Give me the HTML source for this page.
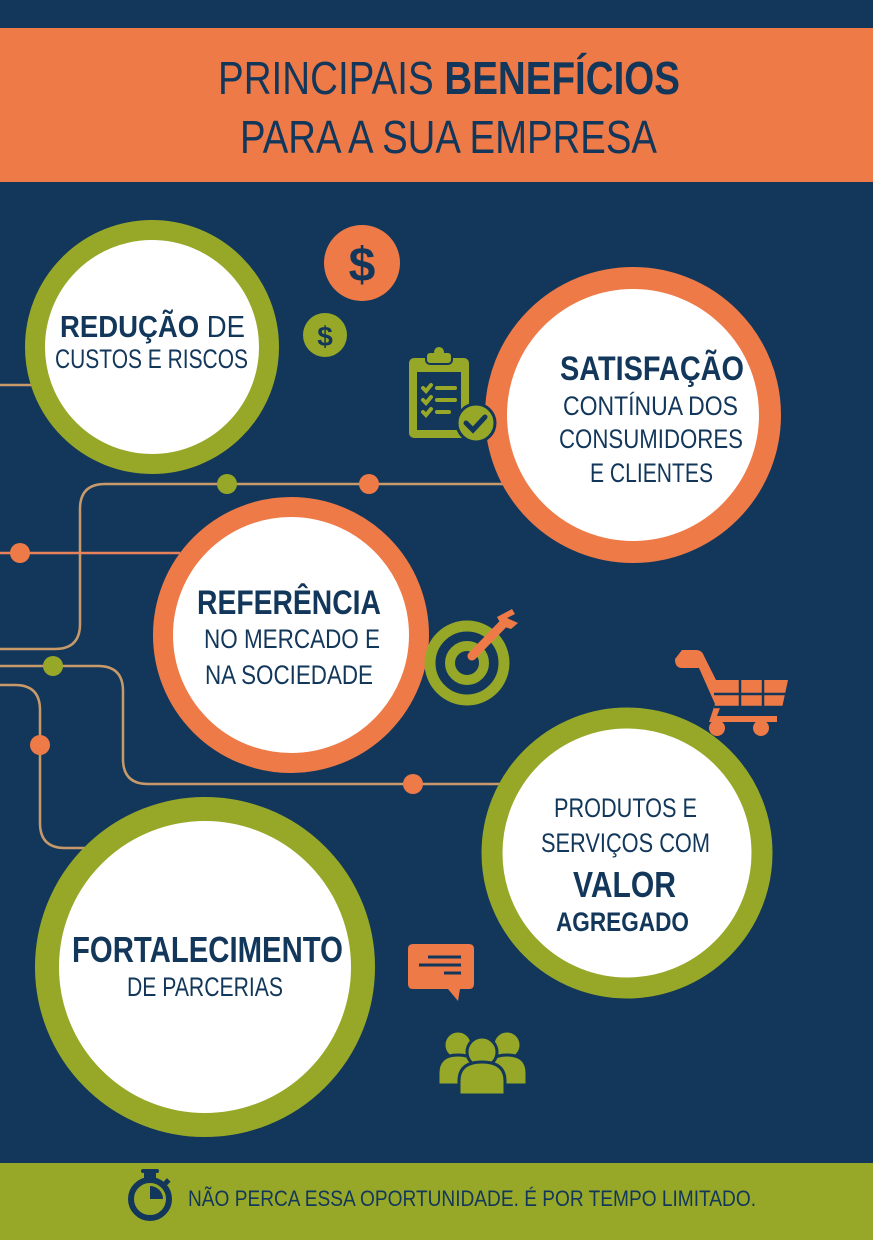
<!DOCTYPE html>
<html><head><meta charset="utf-8"><style>
html,body{margin:0;padding:0;background:#12375a}
svg{display:block}
text{font-family:"Liberation Sans Narrow","Liberation Sans",sans-serif;fill:#12375a}
.b{font-weight:bold}
</style></head><body>
<svg width="873" height="1240" viewBox="0 0 873 1240" xmlns="http://www.w3.org/2000/svg">
<rect width="873" height="1240" fill="#12375a"/>
<rect y="28" width="873" height="154" fill="#ee7a48"/>
<text x="218" y="94" font-size="46" textLength="462" lengthAdjust="spacingAndGlyphs">PRINCIPAIS <tspan class="b">BENEFÍCIOS</tspan></text>
<text x="240" y="153" font-size="46" textLength="417" lengthAdjust="spacingAndGlyphs">PARA A SUA EMPRESA</text>

<!-- connector lines -->
<g fill="none" stroke-width="2.5">
<path d="M0 385 H60" stroke="#c89a6a"/>
<path d="M0 649 H55 Q80 649 80 624 V509 Q80 484 105 484 H520" stroke="#c89a6a"/>
<path d="M0 553 H180" stroke="#e9825a"/>
<path d="M0 666 H98 Q123 666 123 691 V759 Q123 784 148 784 H500" stroke="#c89a6a"/>
<path d="M0 685 H15 Q40 685 40 710 V823 Q40 848 65 848 H90" stroke="#c89a6a"/>
</g>
<circle cx="227" cy="484" r="10" fill="#97a829"/>
<circle cx="369" cy="484" r="10" fill="#ee7a48"/>
<circle cx="20" cy="553" r="10" fill="#ee7a48"/>
<circle cx="53" cy="666" r="10" fill="#97a829"/>
<circle cx="413" cy="784" r="10" fill="#ee7a48"/>
<circle cx="40" cy="745" r="10" fill="#ee7a48"/>

<!-- circles -->
<circle cx="152" cy="347" r="117" fill="#fff" stroke="#97a829" stroke-width="20"/>
<circle cx="633" cy="415" r="137" fill="#fff" stroke="#ee7a48" stroke-width="22"/>
<circle cx="291" cy="635" r="128" fill="#fff" stroke="#ee7a48" stroke-width="20"/>
<circle cx="627" cy="853" r="135" fill="#fff" stroke="#97a829" stroke-width="21"/>
<circle cx="205" cy="967" r="158" fill="#fff" stroke="#97a829" stroke-width="24"/>

<!-- circle text -->
<text x="60" y="337" font-size="31" textLength="185" lengthAdjust="spacingAndGlyphs"><tspan class="b">REDUÇÃO</tspan> DE</text>
<text x="55" y="368" font-size="27" textLength="193" lengthAdjust="spacingAndGlyphs">CUSTOS E RISCOS</text>

<text x="560" y="380" font-size="34" class="b" textLength="184" lengthAdjust="spacingAndGlyphs">SATISFAÇÃO</text>
<text x="563" y="415" font-size="27" textLength="175" lengthAdjust="spacingAndGlyphs">CONTÍNUA DOS</text>
<text x="559" y="448" font-size="27" textLength="184" lengthAdjust="spacingAndGlyphs">CONSUMIDORES</text>
<text x="590" y="482" font-size="27" textLength="123" lengthAdjust="spacingAndGlyphs">E CLIENTES</text>

<text x="197" y="614" font-size="34" class="b" textLength="184" lengthAdjust="spacingAndGlyphs">REFERÊNCIA</text>
<text x="204" y="648" font-size="27" textLength="176" lengthAdjust="spacingAndGlyphs">NO MERCADO E</text>
<text x="205" y="684" font-size="27" textLength="168" lengthAdjust="spacingAndGlyphs">NA SOCIEDADE</text>

<text x="554" y="817" font-size="27" textLength="143" lengthAdjust="spacingAndGlyphs">PRODUTOS E</text>
<text x="541" y="852" font-size="27" textLength="169" lengthAdjust="spacingAndGlyphs">SERVIÇOS COM</text>
<text x="573" y="897" font-size="36" class="b" textLength="103" lengthAdjust="spacingAndGlyphs">VALOR</text>
<text x="556" y="931" font-size="27" class="b" textLength="133" lengthAdjust="spacingAndGlyphs">AGREGADO</text>

<text x="72" y="962" font-size="36" class="b" textLength="271" lengthAdjust="spacingAndGlyphs">FORTALECIMENTO</text>
<text x="127" y="996" font-size="27" textLength="156" lengthAdjust="spacingAndGlyphs">DE PARCERIAS</text>

<!-- dollar icons -->
<circle cx="362" cy="263" r="38" fill="#ee7a48"/>
<text x="362" y="281" font-size="48" class="b" text-anchor="middle" style="font-family:'Liberation Sans',sans-serif">$</text>
<circle cx="325" cy="335" r="22" fill="#97a829"/>
<text x="325" y="346" font-size="28" class="b" text-anchor="middle" style="font-family:'Liberation Sans',sans-serif">$</text>

<!-- clipboard -->
<rect x="409" y="358" width="60" height="80" rx="5" fill="#97a829"/>
<rect x="417" y="372" width="44" height="58" fill="#12375a"/>
<rect x="426" y="352" width="26" height="12" rx="4" fill="#97a829" stroke="#12375a" stroke-width="2"/>
<circle cx="439" cy="352" r="5" fill="#97a829"/>
<g stroke="#97a829" stroke-width="4" fill="none" stroke-linecap="round">
<path d="M423 388 l3 3 l5 -6 M437 388 h18 M423 400 l3 3 l5 -6 M437 400 h18 M423 412 l3 3 l5 -6 M437 412 h12"/>
</g>
<circle cx="476" cy="423" r="19" fill="#97a829" stroke="#12375a" stroke-width="3"/>
<path d="M466 423 l7 7 l12 -13" stroke="#12375a" stroke-width="5" fill="none" stroke-linecap="round"/>

<!-- target -->
<circle cx="467" cy="663" r="37" fill="none" stroke="#97a829" stroke-width="11"/>
<circle cx="467" cy="663" r="17" fill="none" stroke="#97a829" stroke-width="10"/>
<path d="M472 656 L505 622" stroke="#ee7a48" stroke-width="9" stroke-linecap="round"/>
<path d="M497 617 l15 -8 l3 5 l-8 4 l11 5 l-7 6 l-9 -3 z" fill="#ee7a48"/>

<!-- cart -->
<g fill="#ee7a48">
<path d="M682 650 h14 q6 0 8 6 l12 24 h72 l-6 28 h-62 l-3 8 h60 v6 h-68 l6 -18 l-16 -36 h-17 q-7 0 -7 -9 z"/>
<circle cx="717" cy="728" r="8"/><circle cx="761" cy="728" r="8"/>
</g>
<g stroke="#12375a" stroke-width="2.5"><path d="M740 680 v36 M763 680 v34 M714 694 h76 M714 707 h72"/></g>

<!-- speech bubble -->
<path d="M413 944 h56 q5 0 5 5 v35 q0 5 -5 5 h-9 l-2 12 l-10 -12 h-35 q-5 0 -5 -5 v-35 q0 -5 5 -5 z" fill="#ee7a48"/>
<g stroke="#12375a" stroke-width="3"><path d="M428 957 h33 M419 965 h42 M444 973 h17"/></g>

<!-- people -->
<g fill="#97a829" stroke="#12375a" stroke-width="3">
<circle cx="458" cy="1045" r="14"/><path d="M438 1085 v-12 q0 -18 20 -18 q20 0 20 18 v12 z"/>
<circle cx="507" cy="1045" r="14"/><path d="M487 1085 v-12 q0 -18 20 -18 q20 0 20 18 v12 z"/>
<circle cx="482" cy="1052" r="15"/><path d="M459 1095 v-14 q0 -19 23 -19 q23 0 23 19 v14 z"/>
</g>

<!-- footer -->
<rect y="1163" width="873" height="77" fill="#97a829"/>
<circle cx="150" cy="1199" r="19" fill="none" stroke="#12375a" stroke-width="6"/>
<rect x="144" y="1172" width="12" height="6" fill="#12375a"/>
<rect x="141" y="1169" width="18" height="4" rx="2" fill="#12375a"/>
<path d="M150 1199 V1186 A13 13 0 0 1 163 1199 Z" fill="#12375a"/>
<rect x="165" y="1179" width="5" height="5" fill="#12375a" transform="rotate(45 167 1181)"/>
<text x="188" y="1206" font-size="22" textLength="568" lengthAdjust="spacingAndGlyphs">NÃO PERCA ESSA OPORTUNIDADE. É POR TEMPO LIMITADO.</text>
</svg>
</body></html>
